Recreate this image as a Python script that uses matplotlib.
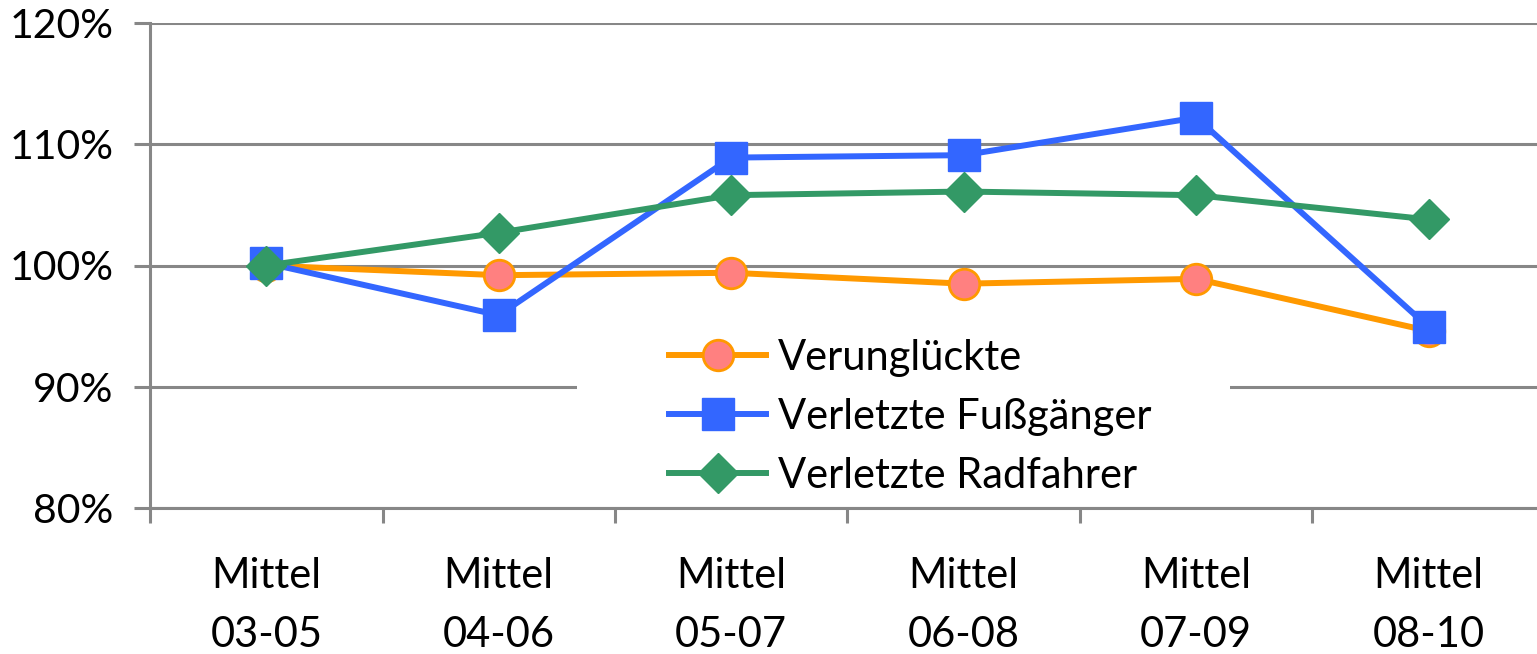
import matplotlib
matplotlib.use("Agg")
import matplotlib.pyplot as plt
from matplotlib.patches import Rectangle

categories = ["Mittel\n03-05", "Mittel\n04-06", "Mittel\n05-07", "Mittel\n06-08", "Mittel\n07-09", "Mittel\n08-10"]
verunglueckte = [100.0, 99.2, 99.4, 98.5, 98.9, 94.6]
fussgaenger = [100.2, 95.9, 108.9, 109.1, 112.2, 94.9]
radfahrer = [100.0, 102.7, 105.8, 106.1, 105.8, 103.8]
yticks = [80, 90, 100, 110, 120]

plt.rcParams['font.family'] = ['Lato', 'DejaVu Sans']
DPI = 100
W, H = 1537, 654
fig = plt.figure(figsize=(W / DPI, H / DPI), dpi=DPI)
L, R, T, B = 150, 1545, 23, 508
ax = fig.add_axes([L / W, 1 - B / H, (R - L) / W, (B - T) / H])

grid_c = "#878787"
x = list(range(len(categories)))
ax.plot(x, verunglueckte, color="#FF9900", lw=4.3, marker="o", ms=22,
        mfc="#FF8080", mec="#FF9900", mew=2, label="Verunglückte", zorder=3)
ax.plot(x, fussgaenger, color="#3366FF", lw=4.3, marker="s", ms=23,
        mfc="#3366FF", mec="#3366FF", label="Verletzte Fußgänger", zorder=4)
ax.plot(x, radfahrer, color="#339966", lw=4.3, marker="D", ms=20,
        mfc="#339966", mec="#339966", label="Verletzte Radfahrer", zorder=5)

ax.set_xlim(-0.5, len(categories) - 0.5)
ax.set_ylim(80, 120)
ax.set_yticks(yticks)
ax.set_yticklabels([f"{v}%" for v in yticks])
ax.yaxis.grid(True, color=grid_c, lw=2.2)
ax.set_axisbelow(True)

ax.set_xticks([i - 0.5 for i in range(len(categories) + 1)])
ax.set_xticklabels([])
ax.set_xticks(x, minor=True)
ax.set_xticklabels(categories, minor=True, linespacing=1.68)
ax.tick_params(axis="x", which="major", length=11, width=2.2, color=grid_c, direction="out")
ax.tick_params(axis="x", which="minor", length=0, pad=35, labelsize=30)
ax.tick_params(axis="y", length=11.5, width=2.2, color=grid_c, pad=15, labelsize=29.5)

for s in ["top", "right"]:
    ax.spines[s].set_visible(False)
for s in ["left", "bottom"]:
    ax.spines[s].set_color(grid_c)
    ax.spines[s].set_linewidth(2.2)
ax.spines["bottom"].set_zorder(0)

# white legend background
bg = Rectangle((577 / W, 1 - 500 / H), (1230 - 577) / W, (500 - 330) / H,
               transform=fig.transFigure, facecolor="white", edgecolor="none",
               zorder=1, clip_on=False)
ax.add_patch(bg)

leg = ax.legend(loc="upper left", bbox_to_anchor=(669 / W, 1 - 339 / H),
                bbox_transform=fig.transFigure, frameon=False,
                fontsize=30, handlelength=2.33, handletextpad=0.29,
                labelspacing=0.5, borderpad=0, borderaxespad=0)
leg.set_zorder(10)

fig.savefig("out.png", dpi=DPI)
